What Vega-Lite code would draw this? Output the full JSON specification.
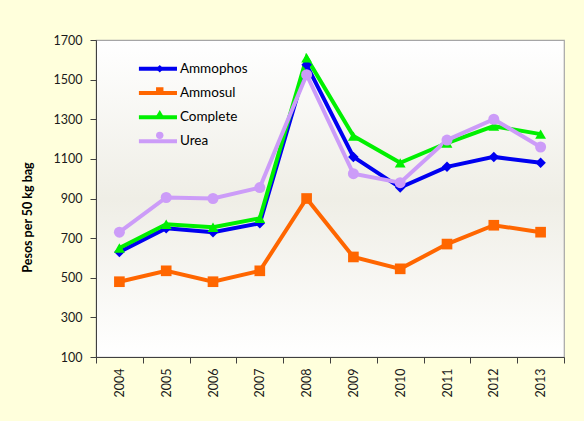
{
  "$schema": "https://vega.github.io/schema/vega-lite/v6.json",
  "width": 468,
  "height": 317,
  "autosize": {"type": "none"},
  "padding": {"left": 96, "top": 40, "right": 20, "bottom": 64},
  "background": "#FFFFDC",
  "config": {
    "font": "Lato",
    "view": {
      "stroke": "#a6a6a6",
      "strokeWidth": 1.2,
      "fill": {
        "gradient": "linear", "x1": 0, "y1": 0, "x2": 0, "y2": 1,
        "stops": [
          {"offset": 0, "color": "#ffffff"},
          {"offset": 0.5, "color": "#efeee6"},
          {"offset": 1, "color": "#ffffff"}
        ]
      }
    },
    "axis": {
      "domainColor": "#404040",
      "tickColor": "#404040",
      "labelColor": "#1a1a1a",
      "labelFont": "Lato",
      "labelFontSize": 12.5,
      "grid": false,
      "tickSize": 6
    }
  },
  "data": {
    "values": [
      {"year": "2004", "series": "Ammophos", "value": 630},
      {"year": "2005", "series": "Ammophos", "value": 750},
      {"year": "2006", "series": "Ammophos", "value": 730},
      {"year": "2007", "series": "Ammophos", "value": 775},
      {"year": "2008", "series": "Ammophos", "value": 1575},
      {"year": "2009", "series": "Ammophos", "value": 1110},
      {"year": "2010", "series": "Ammophos", "value": 955},
      {"year": "2011", "series": "Ammophos", "value": 1060},
      {"year": "2012", "series": "Ammophos", "value": 1110},
      {"year": "2013", "series": "Ammophos", "value": 1080},
      {"year": "2004", "series": "Ammosul", "value": 480},
      {"year": "2005", "series": "Ammosul", "value": 535},
      {"year": "2006", "series": "Ammosul", "value": 480},
      {"year": "2007", "series": "Ammosul", "value": 535},
      {"year": "2008", "series": "Ammosul", "value": 900},
      {"year": "2009", "series": "Ammosul", "value": 605},
      {"year": "2010", "series": "Ammosul", "value": 545},
      {"year": "2011", "series": "Ammosul", "value": 670},
      {"year": "2012", "series": "Ammosul", "value": 765},
      {"year": "2013", "series": "Ammosul", "value": 730},
      {"year": "2004", "series": "Complete", "value": 650},
      {"year": "2005", "series": "Complete", "value": 770},
      {"year": "2006", "series": "Complete", "value": 755},
      {"year": "2007", "series": "Complete", "value": 800},
      {"year": "2008", "series": "Complete", "value": 1610},
      {"year": "2009", "series": "Complete", "value": 1215},
      {"year": "2010", "series": "Complete", "value": 1080},
      {"year": "2011", "series": "Complete", "value": 1180},
      {"year": "2012", "series": "Complete", "value": 1265},
      {"year": "2013", "series": "Complete", "value": 1225},
      {"year": "2004", "series": "Urea", "value": 730},
      {"year": "2005", "series": "Urea", "value": 905},
      {"year": "2006", "series": "Urea", "value": 900},
      {"year": "2007", "series": "Urea", "value": 955},
      {"year": "2008", "series": "Urea", "value": 1525},
      {"year": "2009", "series": "Urea", "value": 1025},
      {"year": "2010", "series": "Urea", "value": 980},
      {"year": "2011", "series": "Urea", "value": 1195},
      {"year": "2012", "series": "Urea", "value": 1300},
      {"year": "2013", "series": "Urea", "value": 1160}
    ]
  },
  "encoding": {
    "x": {
      "field": "year", "type": "ordinal",
      "scale": {"paddingInner": 0, "paddingOuter": 0},
      "axis": {"title": null, "labelAngle": -90, "tickBand": "extent", "labelPadding": 5, "labelBaseline": "middle", "labelAlign": "right"}
    },
    "y": {
      "field": "value", "type": "quantitative",
      "scale": {"domain": [100, 1700], "nice": false, "zero": false},
      "axis": {
        "title": "Pesos per 50 kg bag",
        "format": "d",
        "values": [100, 300, 500, 700, 900, 1100, 1300, 1500, 1700],
        "labelPadding": 8,
        "titleFont": "Lato",
        "titleFontSize": 12.5,
        "titleFontWeight": "bold",
        "titleColor": "#000000",
        "titleX": -69,
        "titleY": 177,
        "titleAngle": -90,
        "titleAlign": "center",
        "titleBaseline": "middle"
      }
    }
  },
  "resolve": {
    "scale": {"color": "independent", "fill": "independent", "shape": "independent"},
    "legend": {"color": "independent", "fill": "independent", "shape": "independent"}
  },
  "layer": [
    {
      "mark": {"type": "line", "strokeWidth": 4},
      "encoding": {
        "color": {
          "field": "series", "type": "nominal",
          "scale": {"domain": ["Ammophos", "Ammosul", "Complete", "Urea"], "range": ["#0000F0", "#FF6600", "#00F000", "#CC9CF8"]},
          "legend": {
            "title": null, "orient": "none", "legendX": 55.2, "legendY": 22,
            "symbolType": "M-5,0H5", "symbolSize": 58, "symbolStrokeWidth": 4,
            "labelFont": "Lato", "labelFontSize": 13.5, "labelColor": "#000000",
            "labelOffset": 15.2, "rowPadding": 7.2, "padding": 0
          }
        }
      }
    },
    {
      "mark": {"type": "point", "filled": true, "opacity": 1},
      "encoding": {
        "fill": {
          "field": "series", "type": "nominal",
          "scale": {"domain": ["Ammophos", "Ammosul", "Complete", "Urea"], "range": ["#0000F0", "#FF6600", "#00F000", "#CC9CF8"]},
          "legend": {
            "title": null, "orient": "none", "legendX": 57, "legendY": 22,
            "symbolSize": 55, "labelExpr": "''",
            "labelFontSize": 13.5, "labelOffset": 4, "rowPadding": 7.2, "padding": 0
          }
        },
        "shape": {
          "field": "series", "type": "nominal",
          "scale": {"domain": ["Ammophos", "Ammosul", "Complete", "Urea"], "range": ["diamond", "square", "triangle-up", "circle"]},
          "legend": {
            "title": null, "orient": "none", "legendX": 57, "legendY": 22,
            "symbolSize": 55, "labelExpr": "''",
            "labelFontSize": 13.5, "labelOffset": 4, "rowPadding": 7.2, "padding": 0
          }
        },
        "size": {
          "field": "series", "type": "nominal",
          "scale": {"domain": ["Ammophos", "Ammosul", "Complete", "Urea"], "range": [110, 121, 150, 125]},
          "legend": null
        }
      }
    }
  ]
}
